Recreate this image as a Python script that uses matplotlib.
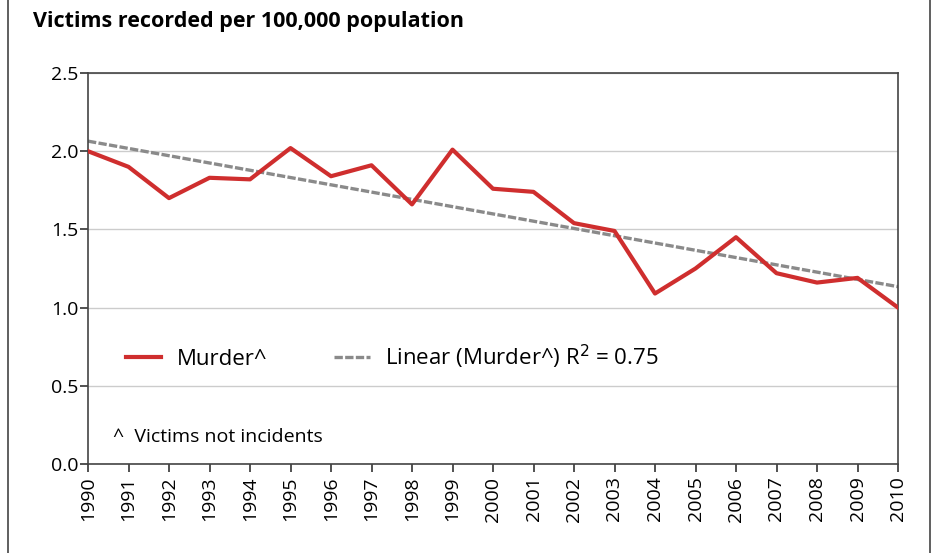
import numpy as np
import matplotlib.pyplot as plt
from matplotlib.lines import Line2D

plt.rcParams['font.family'] = ['Open Sans', 'DejaVu Sans']

years = list(range(1990, 2011))
murder = [2.00, 1.90, 1.70, 1.83, 1.82, 2.02, 1.84, 1.91, 1.66, 2.01, 1.76,
          1.74, 1.54, 1.49, 1.09, 1.25, 1.45, 1.22, 1.16, 1.19, 1.00]
yticks = [0.0, 0.5, 1.0, 1.5, 2.0, 2.5]

# linear trend
coef = np.polyfit(years, murder, 1)
trend = np.polyval(coef, years)

fig = plt.figure(figsize=(9.43, 5.53), dpi=100)
ax = fig.add_axes([88 / 943, 1 - 464 / 553, 810 / 943, 391 / 553])

ax.plot(years, trend, color='#8a8a8a', lw=2.4, linestyle=(0, (2.5, 0.7)),
        label='Linear (Murder^) R$^2$ = 0.75', zorder=2)
ax.plot(years, murder, color='#cf2e2e', lw=3, label='Murder^', zorder=3)

ax.set_xlim(1990, 2010)
ax.set_ylim(0, 2.5)
ax.set_xticks(years)
ax.set_xticklabels([str(y) for y in years], rotation=90, fontsize=14)
ax.set_yticks(yticks)
ax.set_yticklabels([f'{v:.1f}' for v in yticks], fontsize=14)
ax.tick_params(axis='both', direction='out', length=6, width=1.2, color='#333333')
ax.tick_params(axis='y', pad=1)
ax.tick_params(axis='x', pad=3)
ax.yaxis.grid(True, color='#cccccc', lw=1)
ax.set_axisbelow(True)
for s in ax.spines.values():
    s.set_color('#444444')
    s.set_linewidth(1.2)

h, l = ax.get_legend_handles_labels()
ax.legend(h[::-1], l[::-1], ncol=2, frameon=False, fontsize=16,
          loc='center left', bbox_to_anchor=(0.022, 0.275),
          handlelength=1.6, columnspacing=3.0, handletextpad=0.7)

ax.text(0.031, 0.07, '^  Victims not incidents', transform=ax.transAxes,
        fontsize=14, va='center')
fig.text(33 / 943, 1 - 22 / 553, 'Victims recorded per 100,000 population',
         fontsize=15.5, fontweight='bold', va='center')

# outer frame lines
fig.add_artist(Line2D([8 / 943, 8 / 943], [0, 1], color='#444444', lw=1.2))
fig.add_artist(Line2D([930 / 943, 930 / 943], [0, 1], color='#444444', lw=1.2))

fig.savefig('out.png', dpi=100)
